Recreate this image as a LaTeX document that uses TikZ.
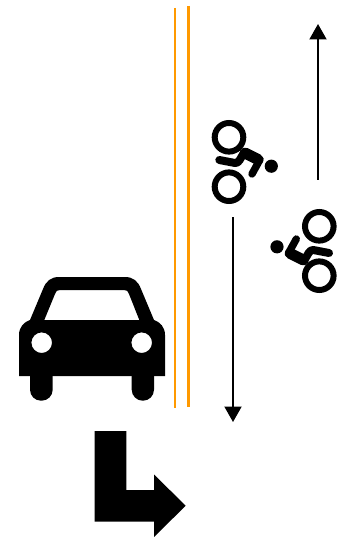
\documentclass[tikz,border=0pt]{standalone}
\usepackage{tikz}
\usetikzlibrary{arrows.meta,calc}
\definecolor{LaneOrange}{HTML}{FF9900}

\begin{document}
\begin{tikzpicture}[x=1pt,y=-1pt]
    \tikzset{lane/.style={LaneOrange,line cap=butt},
      travel/.style={black,line width=2pt,-{Triangle[length=15.5pt,width=17pt]}},
      wheel/.style={black,line width=6pt},
      rider/.style={black,line cap=round,line join=round}}
    \useasboundingbox (0,0) rectangle (350,537);

    % Lane lines
    \draw[lane,line width=2.4pt] (175,8) -- (175,408);
    \draw[lane,line width=3.4pt] (188.3,6) -- (188.3,407);

    % Travel directions
    \coordinate (upstart) at (318,180);
    \coordinate (upend) at (318,24);
    \coordinate (downstart) at (233,217);
    \coordinate (downend) at (233,422);
    \draw[travel] (upstart) -- (upend);
    \draw[travel] (downstart) -- (downend);

    % Bikes
    \foreach \x/\y/\r/\id in {229/162/0/near,319.3/251/180/far}{
      \begin{scope}[shift={(\x,\y)},rotate=\r]
        \draw[wheel] (0,-24.7) circle (14.3pt);
        \draw[wheel] (0,24.7) circle (14.3pt);
        \fill (42.3,4.2) circle (6.6pt);
        \draw[rider,line width=8pt] (-9.7,-2) -- (6,1)
          .. controls (10,1.5) and (11.5,-4) .. (14.5,-8.5);
        \draw[rider,line width=11pt] (16,-9) -- (29,-2.5);
        \draw[rider,line width=7.4pt] (31,-2.5) -- (23,12);
      \end{scope}
    }

    % Car
    \fill[even odd rule] (19,376) -- (19,335)
      .. controls (19,327) and (24,322) .. (30,320)
      -- (43,289) .. controls (46,281) and (51,277) .. (59,277)
      -- (125,277) .. controls (133,277) and (138,281) .. (141,289)
      -- (154,320) .. controls (160,322) and (165,327) .. (165,335)
      -- (165,376) -- cycle
      (44.3,320) -- (55,294) .. controls (56,291) and (57,290) .. (60,290)
      -- (124,290) .. controls (127,290) and (128,291) .. (129,294)
      -- (139.3,320) -- cycle
      (41.7,342.7) circle (10.3pt)
      (141.7,342.7) circle (10.3pt);
    \fill[rounded corners=11pt] (30,357) rectangle (52.7,400.7);
    \fill[rounded corners=11pt] (131.7,357) rectangle (154,400.7);

    % Turn arrow
    \fill (94.5,431) -- (126.3,431) -- (126.3,490) -- (154,490) -- (154,474.5)
      -- (185.7,505.7) -- (154,537) -- (154,521.7) -- (94.5,521.7) -- cycle;
\end{tikzpicture}
\end{document}
